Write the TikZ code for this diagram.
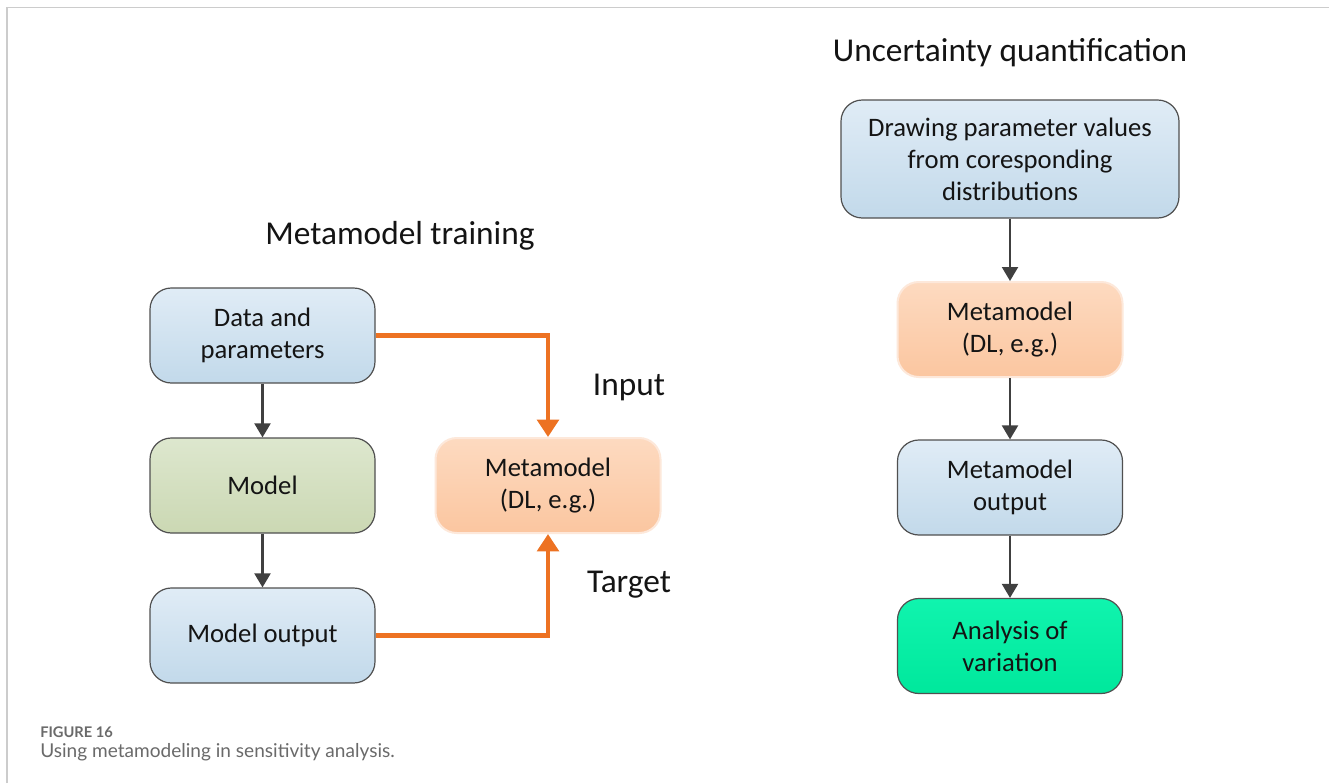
\documentclass[tikz,border=0pt]{standalone}
\usepackage{fontspec}
\setmainfont{Carlito}
\newfontfamily\capfont{Lato}
\usetikzlibrary{arrows.meta}
\definecolor{txt}{HTML}{141414}
\definecolor{bordc}{HTML}{505050}
\definecolor{arrc}{HTML}{404040}
\definecolor{orng}{HTML}{ED7222}
\definecolor{frame}{HTML}{CCCCCC}
\definecolor{capgray}{HTML}{6A6A6A}
\definecolor{blue1}{HTML}{E0ECF6}
\definecolor{blue2}{HTML}{C2D9EA}
\definecolor{green1}{HTML}{DDE7CE}
\definecolor{green2}{HTML}{CBD8B3}
\definecolor{or1}{HTML}{FDDAC0}
\definecolor{or2}{HTML}{FBC6A0}
\definecolor{orglow}{HTML}{FDE8DA}
\definecolor{mint1}{HTML}{10F4AE}
\definecolor{mint2}{HTML}{00E89C}
\tikzset{
  box/.style={draw=bordc, line width=0.9pt, rounded corners=16pt, align=center,
    text=txt, font=\fontsize{20}{24}\selectfont, inner sep=2pt},
  smallbox/.style={box, minimum width=168.75pt, minimum height=71.25pt},
  bluebox/.style={smallbox, top color=blue1, bottom color=blue2},
  greenbox/.style={smallbox, top color=green1, bottom color=green2},
  orangebox/.style={smallbox, draw=orglow, line width=1.5pt, top color=or1, bottom color=or2},
  mintbox/.style={smallbox, top color=mint1, bottom color=mint2},
  title/.style={text=txt, font=\fontsize{25}{30}\selectfont},
  grayarrow/.style={draw=arrc, line width=1.6pt, -{Triangle[width=12pt,length=10.5pt]}},
  orangearrow/.style={draw=orng, line width=3.4pt, -{Triangle[width=16pt,length=13pt]}},
}
\begin{document}
\begin{tikzpicture}[x=0.75pt,y=-0.75pt]
\useasboundingbox (0,0) rectangle (1329,783);
\fill[white] (0,0) rectangle (1329,783);
% frame
\draw[frame, line width=1.1pt] (7,783) -- (7,7.5) -- (1329,7.5);

% left part
\node[title] (t1) at (400,236) {Metamodel training};
\node[bluebox] (dp) at (262.5,335.5) {Data and\\parameters};
\node[greenbox] (mo) at (262.5,485.5) {Model};
\node[bluebox] (mout) at (262.5,635.5) {Model output};
\node[orangebox] (mm) at (548,485.5) {Metamodel\\(DL, e.g.)};
\node[title] (inp) at (629,387) {Input};
\node[title] (tar) at (629,585) {Target};

\draw[grayarrow] (dp.south) -- (mo.north);
\draw[grayarrow] (mo.south) -- (mout.north);
\draw[orangearrow] (dp.east) -| (mm.north);
\draw[orangearrow] (mout.east) -| (mm.south);

% right part
\node[title] (t2) at (1010,53) {Uncertainty quantification};
\node[box, minimum width=253.5pt, minimum height=88.5pt, top color=blue1, bottom color=blue2]
  (dr) at (1010,159) {Drawing parameter values\\from coresponding\\distributions};
\node[orangebox] (mm2) at (1010,329.5) {Metamodel\\(DL, e.g.)};
\node[bluebox] (mmo) at (1010,487.5) {Metamodel\\output};
\node[mintbox] (av) at (1010,646) {Analysis of\\variation};

\draw[grayarrow] (dr.south) -- (mm2.north);
\draw[grayarrow] (mm2.south) -- (mmo.north);
\draw[grayarrow] (mmo.south) -- (av.north);

% caption
\node[anchor=west, text=capgray, inner sep=0pt, font=\capfont\bfseries\fontsize{11}{13}\selectfont] (fig) at (40,732) {FIGURE 16};
\node[anchor=west, text=capgray, inner sep=0pt, font=\capfont\fontsize{14.3}{17}\selectfont] (cap) at (40,752) {Using metamodeling in sensitivity analysis.};
\end{tikzpicture}
\end{document}
